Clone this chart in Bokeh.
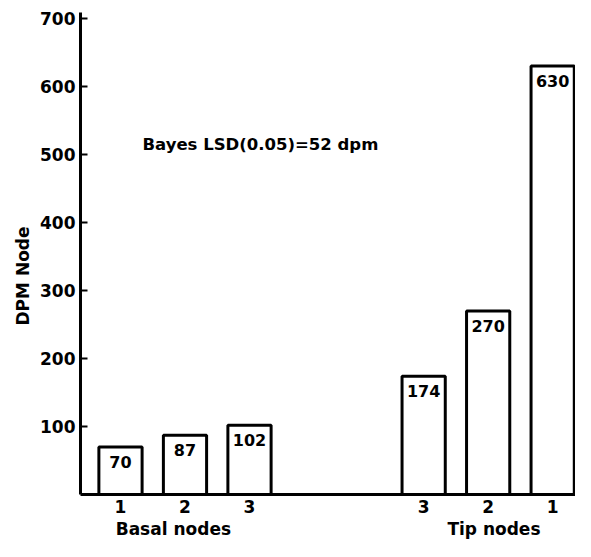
import numpy as np
from bokeh.plotting import figure
from bokeh.models import ColumnDataSource, FixedTicker, Label, Range1d, LinearAxis, Title
from bokeh.core.properties import value
from bokeh.embed import file_html
from bokeh.resources import INLINE

# ---- data ----
groups = ["Basal nodes", "Tip nodes"]
basal_labels = ["1", "2", "3"]
basal_dpm = [70, 87, 102]
tip_labels = ["3", "2", "1"]
tip_dpm = [174, 270, 630]
y_ticks = [100, 200, 300, 400, 500, 600, 700]
y_title = "DPM Node"
note = "Bayes LSD(0.05)=52 dpm"

FONT = "DejaVu Sans"

# ---- layout: positions on the x axis (basal group, gap, tip group) ----
GAP = 1.70
basal_x = np.arange(1, len(basal_dpm) + 1, dtype=float)
tip_x = basal_x[-1] + GAP + np.arange(1, len(tip_dpm) + 1, dtype=float)

xs = np.concatenate([basal_x, tip_x])
vals = basal_dpm + tip_dpm
labels = basal_labels + tip_labels
src = ColumnDataSource(dict(x=xs, top=vals, txt=[str(v) for v in vals]))

p = figure(width=575, height=541, output_backend="svg", toolbar_location=None,
           x_range=Range1d(0.38, 8.054), y_range=Range1d(0, 708.8),
           min_border_left=80, min_border_right=0, min_border_top=12, min_border_bottom=47)
p.outline_line_color = None
p.grid.visible = False
p.background_fill_color = "white"
p.border_fill_color = "white"

p.vbar(x="x", top="top", width=0.67, bottom=0, source=src,
       fill_color="white", line_color="black", line_width=3)
p.text(x="x", y="top", text="txt", source=src, y_offset=15,
       text_align="center", text_baseline="middle", text_font=value(FONT),
       text_font_style="bold", text_font_size="16px", text_color="black")

# y axis
ya = p.yaxis[0]
ya.ticker = FixedTicker(ticks=y_ticks)
ya.axis_line_width = 3
ya.axis_line_color = "black"
ya.major_tick_in = 7
ya.major_tick_out = 0
ya.major_tick_line_width = 2
ya.minor_tick_line_color = None
ya.major_label_standoff = 5
ya.major_label_text_font = FONT
ya.major_label_text_font_style = "bold"
ya.major_label_text_font_size = "17px"
ya.major_label_text_color = "black"

# x axis
xa = p.xaxis[0]
xa.ticker = FixedTicker(ticks=list(xs))
xa.major_label_overrides = {float(x): l for x, l in zip(xs, labels)}
xa.axis_line_width = 3
xa.axis_line_color = "black"
xa.major_tick_in = 0
xa.major_tick_out = 0
xa.minor_tick_line_color = None
xa.major_label_standoff = 5
xa.major_label_text_font = FONT
xa.major_label_text_font_style = "bold"
xa.major_label_text_font_size = "17px"
xa.major_label_text_color = "black"

# group labels: a second, line-less axis below
gx = [basal_x.mean() - 0.18, tip_x.mean() + 0.09]
ga = LinearAxis(ticker=FixedTicker(ticks=gx),
                major_label_overrides={float(x): g for x, g in zip(gx, groups)},
                axis_line_color=None, major_tick_line_color=None, minor_tick_line_color=None,
                major_tick_in=0, major_tick_out=0, major_label_standoff=3,
                major_label_text_font=FONT, major_label_text_font_style="bold",
                major_label_text_font_size="17px", major_label_text_color="black")
p.add_layout(ga, "below")

# y-axis title
p.add_layout(Title(text=y_title, align="left", offset=169, standoff=9,
                   text_font=FONT, text_font_style="bold", text_font_size="17px",
                   text_color="black"), "left")

# note
p.add_layout(Label(x=1.34, y=515, text=note, text_align="left", text_baseline="middle",
                   text_font=FONT, text_font_style="bold",
                   text_font_size="16.5px", text_color="black"))

open("out.html", "w").write(file_html(p, INLINE))
